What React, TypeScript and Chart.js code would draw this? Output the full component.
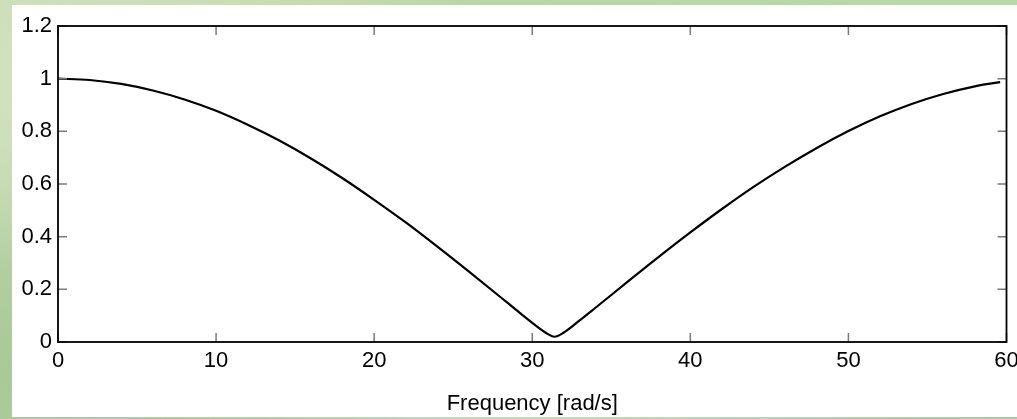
import React, { useEffect, useRef } from "react";
import { Chart, registerables } from "chart.js";

Chart.register(...registerables);

// Frequency samples [rad/s]
const freq = [0, 2, 4, 6, 8, 10, 12, 14, 16, 18, 20, 22, 24, 26, 28, 29, 30, 31, 31.4, 32, 33, 34, 36, 38, 40, 42, 44, 46, 48, 50, 52, 54, 56, 58, 59.6];
// Magnitude values
const magnitude = [1.0, 0.995, 0.98, 0.955, 0.921, 0.878, 0.825, 0.765, 0.697, 0.622, 0.54, 0.454, 0.362, 0.267, 0.17, 0.121, 0.073, 0.03, 0.02, 0.036, 0.082, 0.13, 0.227, 0.323, 0.416, 0.505, 0.589, 0.666, 0.737, 0.801, 0.857, 0.904, 0.942, 0.971, 0.987];
const xTicks = [0, 10, 20, 30, 40, 50, 60];
const yTicks = [0, 0.2, 0.4, 0.6, 0.8, 1, 1.2];
const xTitle = "Frequency [rad/s]";

const FONT = "'Liberation Sans', Arial, Helvetica, sans-serif";

const framePlugin = {
  id: "matlabFrame",
  afterDraw(chart: any) {
    const { ctx, chartArea: a, scales } = chart;
    const xs = scales.x;
    const ys = scales.y;
    ctx.save();
    ctx.strokeStyle = "#7a7a7a";
    ctx.lineWidth = 1.5;
    ctx.beginPath();
    for (const t of xTicks) {
      const px = xs.getPixelForValue(t);
      ctx.moveTo(px, a.bottom);
      ctx.lineTo(px, a.bottom - 9);
      ctx.moveTo(px, a.top);
      ctx.lineTo(px, a.top + 9);
    }
    for (const t of yTicks) {
      const py = ys.getPixelForValue(t);
      ctx.moveTo(a.left, py);
      ctx.lineTo(a.left + 9, py);
      ctx.moveTo(a.right, py);
      ctx.lineTo(a.right - 9, py);
    }
    ctx.stroke();
    ctx.strokeStyle = "#000";
    ctx.lineWidth = 1.8;
    ctx.strokeRect(a.left, a.top, a.right - a.left, a.bottom - a.top);
    ctx.restore();
  },
};

export default function App() {
  const ref = useRef<HTMLCanvasElement | null>(null);

  useEffect(() => {
    document.body.style.margin = "0";
    const canvas = ref.current;
    if (!canvas) return;
    const chart = new Chart(canvas, {
      type: "line",
      data: {
        datasets: [
          {
            data: freq.map((f, i) => ({ x: f, y: magnitude[i] })),
            borderColor: "#000",
            borderWidth: 2.2,
            pointRadius: 0,
            fill: false,
            cubicInterpolationMode: "monotone",
          },
        ],
      },
      options: {
        animation: false,
        responsive: false,
        events: [],
        layout: { padding: { left: 0, top: 21, right: 10.5, bottom: 0 } },
        plugins: {
          legend: { display: false },
          tooltip: { enabled: false },
        },
        scales: {
          x: {
            type: "linear",
            min: 0,
            max: 60,
            grid: { display: false, drawTicks: false },
            border: { display: false },
            afterBuildTicks: (s: any) => {
              s.ticks = xTicks.map((v) => ({ value: v }));
            },
            afterFit: (s: any) => {
              s.height = 75;
              s.paddingLeft = 0;
              s.paddingRight = 0;
            },
            ticks: {
              color: "#000",
              padding: 6,
              maxRotation: 0,
              autoSkip: false,
              font: { family: FONT, size: 22 },
              callback: (v: any) => String(v),
            },
            title: {
              display: true,
              text: xTitle,
              color: "#000",
              padding: { top: 0, bottom: 0 },
              font: { family: FONT, size: 22 },
            },
          },
          y: {
            type: "linear",
            min: 0,
            max: 1.2,
            grid: { display: false, drawTicks: false },
            border: { display: false },
            afterBuildTicks: (s: any) => {
              s.ticks = yTicks.map((v) => ({ value: v }));
            },
            afterFit: (s: any) => {
              s.width = 46;
              s.paddingTop = 0;
              s.paddingBottom = 0;
            },
            ticks: {
              color: "#000",
              padding: 6,
              autoSkip: false,
              font: { family: FONT, size: 22 },
              callback: (v: any) => String(Math.round(Number(v) * 10) / 10),
            },
          },
        },
      },
      plugins: [framePlugin],
    } as any);
    return () => chart.destroy();
  }, []);

  return (
    <div
      style={{
        position: "fixed",
        left: 0,
        top: 0,
        width: 1017,
        height: 419,
        overflow: "hidden",
        background:
          "radial-gradient(ellipse at 10% 20%, #d4e2c0 0%, rgba(212,226,192,0) 40%)," +
          "radial-gradient(ellipse at 80% 0%, #b9d6a9 0%, rgba(185,214,169,0) 45%)," +
          "radial-gradient(ellipse at 0% 90%, #a9c996 0%, rgba(169,201,150,0) 45%)," +
          "linear-gradient(135deg, #c8dcb6 0%, #b4d1a3 35%, #cfe0bf 60%, #a8c99a 100%)",
      }}
    >
      <div
        style={{
          position: "absolute",
          left: 12,
          top: 5,
          width: 1005,
          height: 412,
          background: "#fff",
        }}
      >
        <canvas ref={ref} width={1005} height={412} style={{ display: "block" }} />
      </div>
    </div>
  );
}
